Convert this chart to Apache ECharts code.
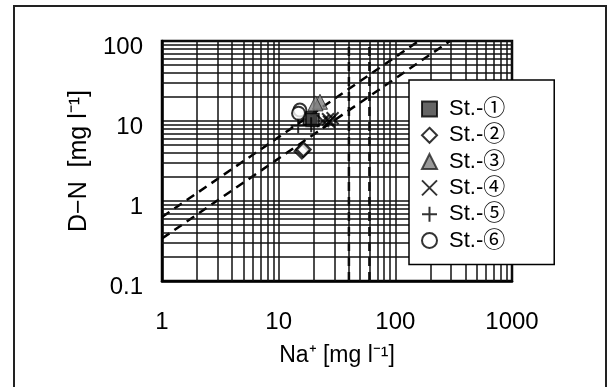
<!DOCTYPE html>
<html>
<head>
<meta charset="utf-8">
<script src="https://cdn.jsdelivr.net/npm/echarts@6/dist/echarts.min.js"></script>
<style>
  html, body { margin: 0; padding: 0; background: #fff; }
  #chart { width: 608px; height: 387px; }
</style>
</head>
<body>
<div id="chart"></div>
<script>
const FONT = "'Liberation Sans', 'Noto Sans CJK JP', sans-serif";

// station points [Na+, D-N]
const st1 = [[18.5, 10.8], [19.5, 10.3]];
const st2 = [[15.8, 4.2], [16.3, 4.4]];
const st3 = [[22.6, 17.4], [20.7, 16.6]];
const st4 = [[24, 10], [26.5, 10.5], [29, 10.8], [27, 9.8]];
const st5 = [[14.7, 8.7], [19, 9]];
const st6 = [[15.2, 13.7], [14.8, 12.5]];

// reference lines
const ratioHigh = [[1, 0.63], [158.7, 100]];
const ratioLow = [[1, 0.34], [294, 100]];
const naLimitA = [[40, 0.1], [40, 100]];
const naLimitB = [[60, 0.1], [60, 100]];

// minor grid positions
const xMinor = [2, 3, 4, 5, 6, 7, 8, 9, 20, 30, 40, 50, 60, 70, 80, 90, 200, 300, 400, 500, 600, 700, 800, 900];
const yMinor = [0.2, 0.3, 0.4, 0.5, 0.6, 0.7, 0.8, 0.9, 2, 3, 4, 5, 6, 7, 8, 9, 20, 30, 40, 50, 60, 70, 80, 90];

const stationNames = ["St.-①", "St.-②", "St.-③", "St.-④", "St.-⑤", "St.-⑥"];

const gridLine = { color: "#111", width: 1.5, type: "solid" };

function dashed(data) {
  return {
    type: "line",
    data: data,
    symbol: "none",
    silent: true,
    lineStyle: { color: "#000", width: 2.5, type: [9, 6] },
    z: 4,
  };
}

const plainNumber = (v) => String(+Number(v).toPrecision(6));

const chart = echarts.init(document.getElementById("chart"));

chart.setOption({
  animation: false,
  textStyle: { fontFamily: FONT },
  graphic: [
    {
      type: "rect",
      shape: { x: 14, y: 6, width: 592, height: 400 },
      style: { fill: "none", stroke: "#222", lineWidth: 2 },
      silent: true,
    },
  ],
  grid: {
    left: 162,
    right: 96,
    top: 41,
    bottom: 106,
    show: true,
    borderColor: "#000",
    borderWidth: 2.5,
  },
  xAxis: {
    type: "log",
    logBase: 10,
    min: 1,
    max: 1000,
    name: "Na⁺ [mg l⁻¹]",
    nameLocation: "middle",
    nameGap: 63,
    nameTextStyle: { fontSize: 23, color: "#000", fontFamily: FONT },
    axisLine: { show: true, lineStyle: { color: "#000", width: 2.5 } },
    axisTick: { show: false },
    axisLabel: { fontSize: 24, color: "#000", margin: 29, fontFamily: FONT, formatter: plainNumber },
    splitLine: { show: true, lineStyle: gridLine },
  },
  yAxis: {
    type: "log",
    logBase: 10,
    min: 0.1,
    max: 100,
    name: "D−N  [mg l⁻¹]",
    nameLocation: "middle",
    nameGap: 64,
    nameTextStyle: { fontSize: 25, color: "#000", fontFamily: FONT },
    axisLine: { show: true, lineStyle: { color: "#000", width: 2.5 } },
    axisTick: { show: false },
    axisLabel: {
      fontSize: 24,
      color: "#000",
      margin: 19,
      verticalAlign: "top",
      lineHeight: 12,
      fontFamily: FONT,
      formatter: plainNumber,
    },
    splitLine: { show: true, lineStyle: gridLine },
  },
  legend: {
    data: stationNames,
    orient: "vertical",
    left: 409,
    top: 80,
    padding: [18, 49, 13, 12],
    itemWidth: 15,
    itemHeight: 15,
    itemGap: 4.3,
    backgroundColor: "#fff",
    borderColor: "#000",
    borderWidth: 1.5,
    textStyle: {
      fontSize: 22,
      lineHeight: 20,
      color: "#000",
      fontFamily: FONT,
      padding: [0, 0, 0, 7],
    },
    z: 10,
  },
  series: [
    {
      name: "grid",
      type: "line",
      data: [],
      silent: true,
      markLine: {
        silent: true,
        symbol: "none",
        label: { show: false },
        lineStyle: gridLine,
        data: xMinor.map((v) => ({ xAxis: v })).concat(yMinor.map((v) => ({ yAxis: v }))),
      },
      z: 1,
    },
    dashed(ratioHigh),
    dashed(ratioLow),
    dashed(naLimitA),
    dashed(naLimitB),
    {
      name: stationNames[0],
      type: "scatter",
      data: st1,
      symbol: "rect",
      symbolSize: 13,
      itemStyle: { color: "#3f3f3f", borderColor: "#000", borderWidth: 1.5 },
      z: 6,
    },
    {
      name: stationNames[1],
      type: "scatter",
      data: st2,
      symbol: "diamond",
      symbolSize: 14,
      itemStyle: { color: "#fff", borderColor: "#000", borderWidth: 2.5 },
      z: 6,
    },
    {
      name: stationNames[2],
      type: "scatter",
      data: st3,
      symbol: "triangle",
      symbolSize: 15,
      itemStyle: { color: "#808080", borderColor: "#222", borderWidth: 1 },
      z: 6,
    },
    {
      name: stationNames[3],
      type: "scatter",
      data: st4,
      symbol: "path://M0,0L10,10M10,0L0,10",
      symbolSize: 12,
      itemStyle: { color: "rgba(0,0,0,0)", borderColor: "#000", borderWidth: 2 },
      z: 6,
    },
    {
      name: stationNames[4],
      type: "scatter",
      data: st5,
      symbol: "path://M5,0L5,10M0,5L10,5",
      symbolSize: 15,
      itemStyle: { color: "rgba(0,0,0,0)", borderColor: "#000", borderWidth: 2 },
      z: 6,
    },
    {
      name: stationNames[5],
      type: "scatter",
      data: st6,
      symbol: "circle",
      symbolSize: 13,
      itemStyle: { color: "#fff", borderColor: "#000", borderWidth: 2 },
      z: 6,
    },
  ],
});
</script>
</body>
</html>
